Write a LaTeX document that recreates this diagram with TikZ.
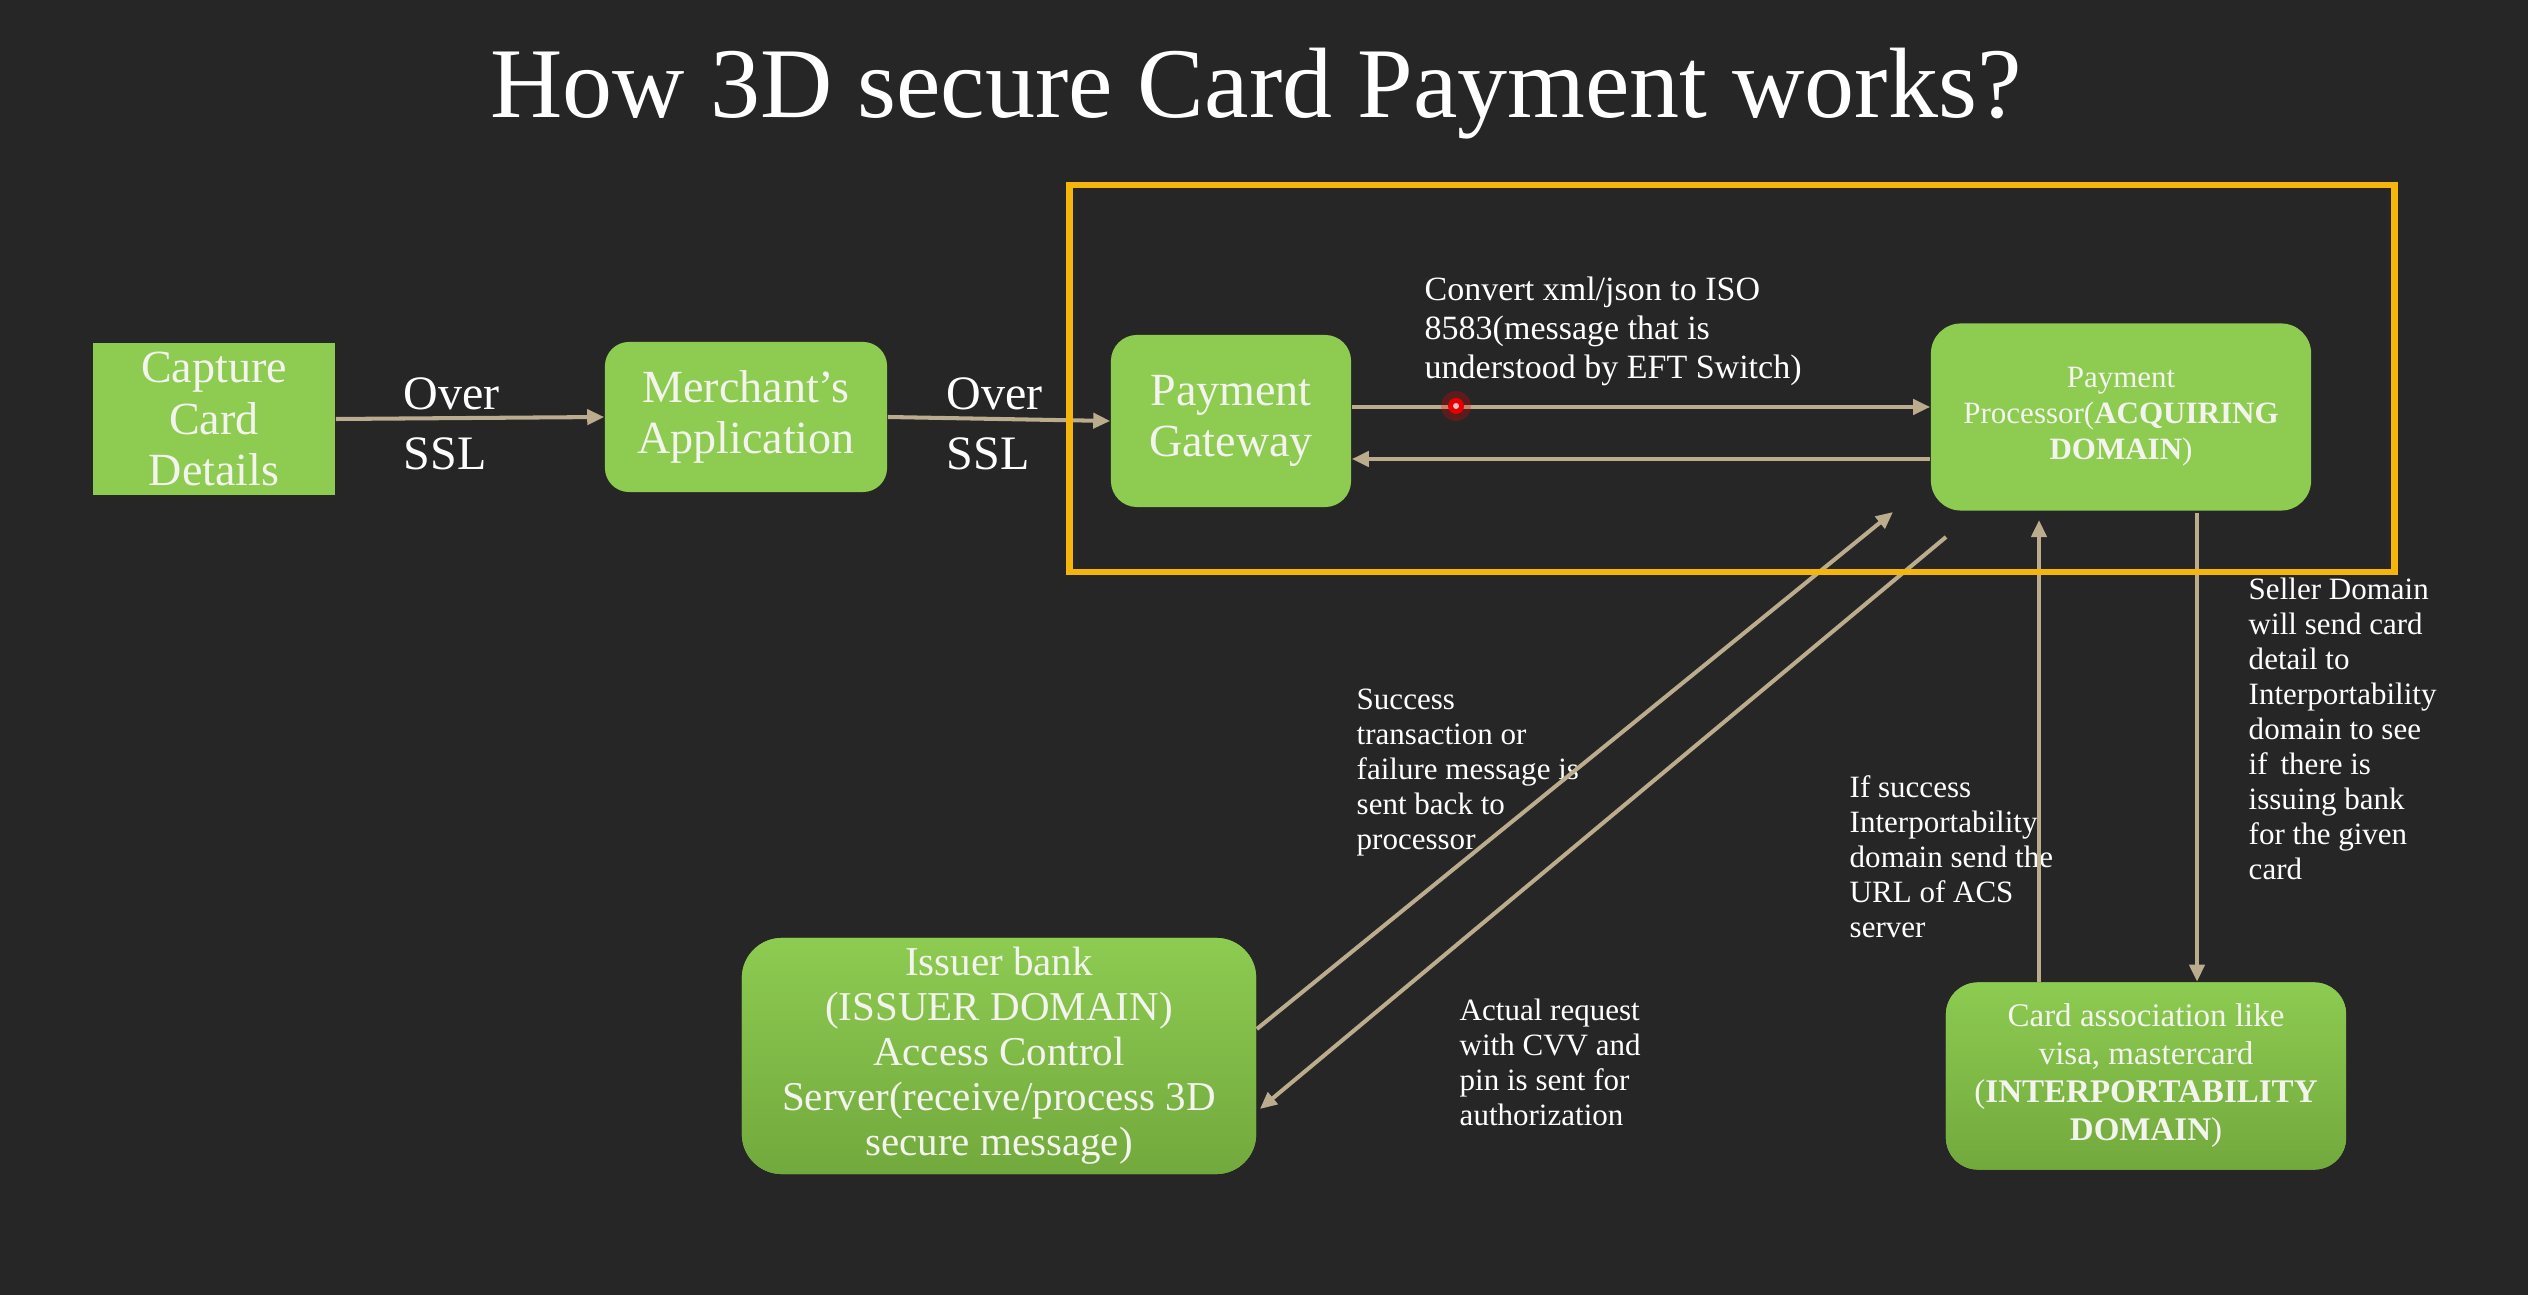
\documentclass[tikz,border=0pt]{standalone}
\usepackage{fontspec}
\setmainfont{Liberation Serif}
\usetikzlibrary{arrows.meta,calc}

\definecolor{bg}{HTML}{262626}
\definecolor{boxgreen}{HTML}{8DCB51}
\definecolor{boxdark}{HTML}{72A93D}
\definecolor{flow}{HTML}{BAAC8C}
\definecolor{acqframe}{HTML}{F5B50A}
\definecolor{ink}{HTML}{F4F4EE}

\newcommand{\fsz}[2]{\fontsize{#1}{#2}\selectfont}

\begin{document}
\begin{tikzpicture}[x=0.01cm, y=-0.01cm,
  box/.style={fill=boxgreen, text=ink, align=center, inner sep=0pt},
  softbox/.style={box, top color=boxgreen, bottom color=boxdark},
  bigtext/.style={font=\fsz{13.1}{14.7}},
  arr/.style={draw=flow, line width=1.15pt, -{Triangle[length=0.17cm,width=0.15cm]}},
  lbl/.style={text=white, align=left, anchor=north west, inner sep=0pt, font=\fsz{8.82}{9.96}},
  ssl/.style={text=white, align=left, anchor=north west, inner sep=0pt, font=\fsz{13.66}{17.07}}]

% background
\fill[bg] (0,0) rectangle (2528,1295);
\useasboundingbox (0,0) rectangle (2528,1295);

% title
\node[text=white, font=\fsz{28.45}{34}, anchor=base, inner sep=0pt] (title) at (1256,118)
  {How 3D secure Card Payment works?};

% boxes
\node[box, bigtext, minimum width=2.42cm, minimum height=1.52cm] (cap) at (214,419)
  {Capture\\Card\\Details};
\node[box, bigtext, rounded corners=0.24cm, minimum width=2.82cm, minimum height=1.50cm] (mer) at (746,417)
  {Merchant’s\\Application};
\node[box, bigtext, rounded corners=0.26cm, minimum width=2.40cm, minimum height=1.72cm] (gw) at (1231,421)
  {Payment\\Gateway};
\node[box, rounded corners=0.30cm, minimum width=3.80cm, minimum height=1.87cm, font=\fsz{8.82}{10.24}] (proc) at (2121,417)
  {Payment\\Processor(\textbf{ACQUIRING}\\\textbf{DOMAIN})};
\node[softbox, rounded corners=0.40cm, minimum width=5.14cm, minimum height=2.36cm, font=\fsz{11.66}{12.8}] (iss) at (999,1056)
  {Issuer bank\\(ISSUER DOMAIN)\\Access Control\\Server(receive/process 3D\\secure message)};
\node[softbox, rounded corners=0.32cm, minimum width=4.00cm, minimum height=1.87cm, font=\fsz{9.39}{10.81}] (card) at (2146,1076)
  {Card association like\\visa, mastercard\\(\textbf{INTERPORTABILITY}\\\textbf{DOMAIN})};

% labels
\node[ssl] (ssl1) at (403,377) {Over\\SSL};
\node[ssl] (ssl2) at (946,377) {Over\\SSL};
\node[lbl, font=\fsz{9.67}{11.1}] (conv) at (1424,276)
  {Convert xml/json to ISO\\8583(message that is\\understood by EFT Switch)};
\node[lbl] (succ) at (1356,688)
  {Success\\transaction or\\failure message is\\sent back to\\processor};
\node[lbl] (req) at (1459,998)
  {Actual request\\with CVV and\\pin is sent for\\authorization};
\node[lbl] (url) at (1849,775)
  {If success\\Interportability\\domain send the\\URL of ACS\\server};
\node[lbl] (seller) at (2248,577)
  {Seller Domain\\will send card\\detail to\\Interportability\\domain to see\\if\, there is\\issuing bank\\for the given\\card};

% connectors
\draw[arr] (cap.east) -- (mer.west);
\draw[arr] (mer.east) -- (gw.west);

\coordinate (g1) at ($(gw.east)+(0,-14)$);
\draw[arr] (g1) -- (g1 -| proc.west);
\coordinate (p1) at ($(proc.west)+(0,42)$);
\draw[arr] (p1) -- (p1 -| gw.east);

\coordinate (d1) at (1893,512);
\draw[arr] ($(iss.east)+(0,-27)$) -- (d1);
\coordinate (d2) at (1946,537);
\draw[arr] (d2) -- ($(iss.east)+(3,53)$);

\coordinate (u1) at (2039,520);
\draw[arr] (u1 |- card.north) -- (u1);
\coordinate (v1) at (2197,513);
\draw[arr] (v1) -- (v1 |- card.north);

% acquiring domain frame
\node[draw=acqframe, line width=1.9pt, minimum width=13.24cm, minimum height=3.87cm, inner sep=0pt] (acq) at (1732,378.5) {};

% pointer dot
\fill[red, opacity=0.25] (1456,406) circle (15);
\fill[red!90!black] (1456,406) circle (8);
\fill[white!75!red] (1456,406) circle (3);

\end{tikzpicture}
\end{document}
